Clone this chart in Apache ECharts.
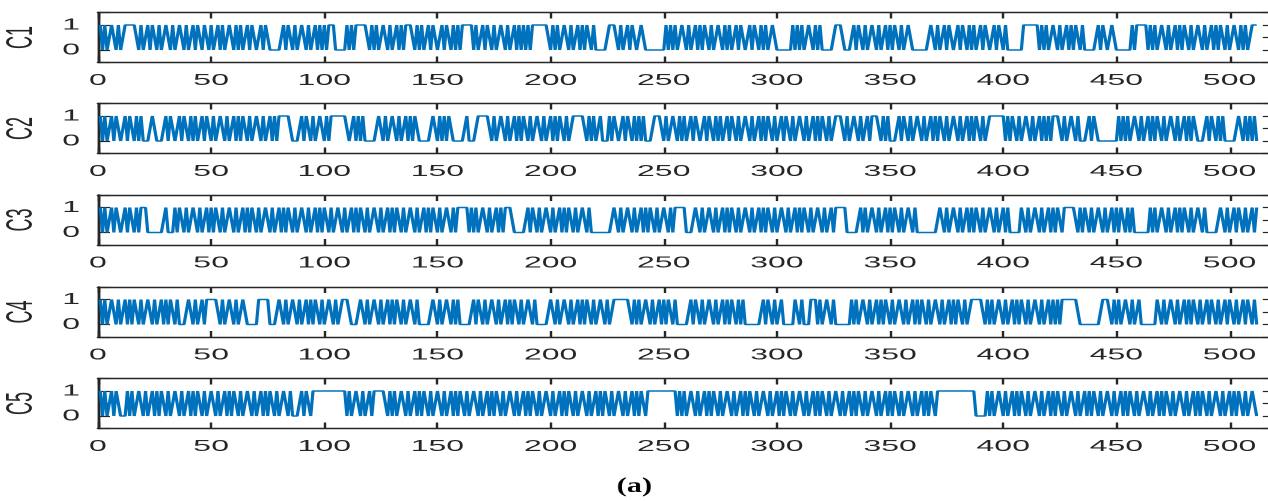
<!DOCTYPE html>
<html>
<head>
<meta charset="utf-8">
<script src="https://cdn.jsdelivr.net/npm/echarts@6/dist/echarts.min.js"></script>
<style>
html,body{margin:0;padding:0;background:#fff;overflow:hidden;width:1268px;height:501px;position:relative;}
#chart{position:absolute;left:0;top:0;width:640px;height:501px;transform:scaleX(2);transform-origin:0 0;}
#cap{position:absolute;left:0;top:468px;width:875px;height:33px;transform:scaleX(1.45);transform-origin:0 0;}
</style>
</head>
<body>
<div id="chart"></div>
<div id="cap"></div>
<script>
// Binary sequences (samples 1..512), grouped in fours
const C1 = `
1010 0110 1001 1111 1010 0101 1010 0110
1001 1010 0101 1011 0100 1010 0110 1010
0101 1001 0110 0000 0101 1010 0110 1001
0101 0111 0000 0101 0111 1110 1010 0110
1001 0101 1110 1010 0101 1001 0110 1010
1111 1010 0101 1010 0110 1001 0101 0101
1111 1110 1010 0110 1001 0101 1010 0000
0111 1010 0101 1001 1000 0000 0010 1010
0110 1001 0101 1010 0110 1010 0101 1001
0110 1010 0110 0000 0010 1010 0110 1010
0000 0111 1000 0101 1010 0110 1001 0101
1010 0110 0000 0001 1010 0101 1001 0110
1010 0101 1001 0110 1000 0000 1111 1110
1010 0110 1001 0101 1010 0000 0101 1001
1000 0000 1011 1110 1010 0110 1001 0101
1010 0110 1001 0101 1010 0110 1010 0111`;
const C2 = `
1010 0101 1001 0110 1010 0001 1000 0101
1001 0110 1010 0101 1010 0110 1001 0101
1010 0110 1001 0101 1111 1000 0101 1010
0110 1011 1111 1100 1010 1000 0001 1010
0110 1001 0101 1000 0001 1010 1011 0000
0010 0001 1111 1010 0110 1001 0101 1010
0110 1001 0101 1010 0111 1110 1010 0100
0101 1001 0110 1010 1000 0111 1010 0110
1010 0101 1001 0110 1010 0101 1010 0110
1001 0101 1010 0101 1010 0110 1001 0101
1010 0111 1010 0110 1001 0111 1010 1000
0101 1010 0110 1001 0101 1010 0110 1001
0101 1010 0111 1111 0101 1010 0110 1001
0101 0111 1010 0110 1000 0101 1000 0000
0010 1010 0110 1001 0101 1010 0110 1001
0101 1000 0101 1010 1000 0001 1010 1010`;
const C3 = `
1010 0101 1001 0110 1011 1000 0000 0100
0101 1010 0110 1001 0101 1010 0110 1001
0101 1010 0110 1001 0101 1010 0110 1001
0101 1010 0110 1001 0101 1010 0110 1001
0101 1010 0110 1001 0101 1010 0110 1011
1110 1010 0110 1001 0101 1110 0000 0101
1010 0110 1001 0101 1010 0110 1000 0000
0001 1010 0110 1001 0101 1010 0110 1011
1110 0001 1010 0110 1001 0101 1010 0110
1001 0101 1010 0110 1001 0101 1010 0110
1001 0111 1100 0000 1010 0110 1001 0101
1010 0110 1000 0000 0001 1010 0110 1001
0101 1010 0110 1001 0100 0001 1010 0110
1001 0101 1011 1111 0101 1010 0110 1001
0101 1010 1000 0000 1010 0110 1001 0101
1010 0110 1000 0001 1010 0101 1010 0101`;
const C4 = `
1010 0110 1001 0101 1010 0110 1001 0101
1010 0001 1010 0101 1111 1010 0110 1001
1000 0011 1110 0001 1010 0110 1001 0101
1010 0110 1001 1110 0001 1010 0110 1001
0101 1010 0110 1000 0001 1010 0110 1010
0000 0101 1010 0110 1001 0101 1010 0110
1000 0001 1010 0110 1001 0101 1010 0110
1001 1111 1110 1010 0110 1001 0101 1010
0000 0101 1010 0110 1001 0101 1010 1000
0000 0101 1010 0100 0001 1010 0011 1010
0110 1000 0000 1010 0110 1001 0101 1010
0110 1001 0101 1010 0110 1001 0101 1010
0111 1110 1010 0110 1001 0101 1010 0110
1001 0101 0111 1111 1000 0000 0001 1110
1010 0110 1001 0000 0001 1010 0110 1001
0101 1010 0101 1010 0101 1010 0101 1010`;
const C5 = `
1010 0101 1000 1010 0110 1001 0101 1010
0110 1001 0101 1010 0110 1001 0101 1010
0110 1001 0101 1010 0110 1000 0101 1011
1111 1111 1111 1010 0110 1001 0111 1110
1010 0110 1001 0101 1010 0110 1001 0101
1010 0110 1001 0101 1010 0110 1001 0101
1010 0110 1001 0101 1010 0110 1001 0101
1010 0110 1001 0101 1011 1111 1111 1110
1010 0110 1001 0101 1010 0110 1001 0101
1010 0110 1001 0101 1010 0110 1001 0101
1010 0110 1001 0101 1010 0110 1001 0101
1010 0110 1001 0101 1011 1111 1111 1111
1110 0000 1010 0110 1001 0101 1010 0110
1001 0101 1010 0110 1001 0101 1010 0110
1001 0101 1010 0110 1001 0101 1010 0110
1001 0101 1010 0110 1001 0101 1010 0110`;

const seriesNames = ['C1', 'C2', 'C3', 'C4', 'C5'];
const seriesBits = [C1, C2, C3, C4, C5];
const xTickLabels = [0, 50, 100, 150, 200, 250, 300, 350, 400, 450, 500];
const yTickLabels = [0, 1];
const captionText = '(a)';

function toValues(s) { return s.replace(/\s+/g, '').split('').map(Number); }

const axisColor = '#262626';
const font = 'Liberation Sans, Arial, Helvetica, sans-serif';
const tops = [12.5, 103.5, 195, 287, 378.5];
const grids = [], xAxes = [], yAxes = [], series = [];

seriesNames.forEach((name, k) => {
  grids.push({ left: 49, right: 2.6, top: tops[k], height: 50, containLabel: false, outerBoundsMode: 'none' });
  const common = { type: 'value', gridIndex: k, min: 0, max: 520, interval: 50,
    splitLine: { show: false },
    axisLine: { show: true, onZero: false, lineStyle: { color: axisColor, width: 1.4 } },
    axisTick: { show: true, inside: true, length: 6, lineStyle: { color: axisColor, width: 1.2 } } };
  xAxes.push(Object.assign({}, common, { position: 'bottom',
    axisLabel: { show: true, margin: 10, color: axisColor, fontSize: 16, fontFamily: font,
      formatter: v => (xTickLabels.indexOf(v) >= 0 ? String(v) : '') } }));
  xAxes.push(Object.assign({}, common, { position: 'top', axisLabel: { show: false } }));
  const ycommon = { type: 'value', gridIndex: k, min: -0.5, max: 1.5, interval: 0.5,
    splitLine: { show: false },
    axisLine: { show: true, onZero: false, lineStyle: { color: axisColor, width: 1.4 } },
    axisTick: { show: true, inside: true, length: 6, lineStyle: { color: axisColor, width: 1.2 } } };
  yAxes.push(Object.assign({}, ycommon, { position: 'left',
    name: name, nameLocation: 'middle', nameGap: 27, nameRotate: 90,
    nameTextStyle: { color: axisColor, fontSize: 18, fontFamily: font },
    axisLabel: { show: true, margin: 9, color: axisColor, fontSize: 16, fontFamily: font,
      formatter: v => (yTickLabels.indexOf(v) >= 0 ? String(v) : '') } }));
  yAxes.push(Object.assign({}, ycommon, { position: 'right', axisLabel: { show: false } }));
  const vals = toValues(seriesBits[k]);
  series.push({ type: 'line', name: name, xAxisIndex: 2 * k, yAxisIndex: 2 * k,
    data: vals.map((v, i) => [i + 1, v]), showSymbol: false, symbol: 'none',
    lineStyle: { color: '#0072BD', width: 1.6 }, animation: false });
});

const chart = echarts.init(document.getElementById('chart'), null, { renderer: 'canvas', devicePixelRatio: 2 });
chart.setOption({
  animation: false,
  backgroundColor: '#ffffff',
  grid: grids, xAxis: xAxes, yAxis: yAxes, series: series
});

const cap = echarts.init(document.getElementById('cap'), null, { renderer: 'canvas', devicePixelRatio: 2 });
cap.setOption({
  animation: false,
  title: { text: captionText, left: 'center', top: 8, padding: 0,
    textStyle: { fontSize: 21, fontWeight: 'bold', color: '#000', fontFamily: 'Liberation Serif, serif' } }
});
</script>
</body>
</html>
